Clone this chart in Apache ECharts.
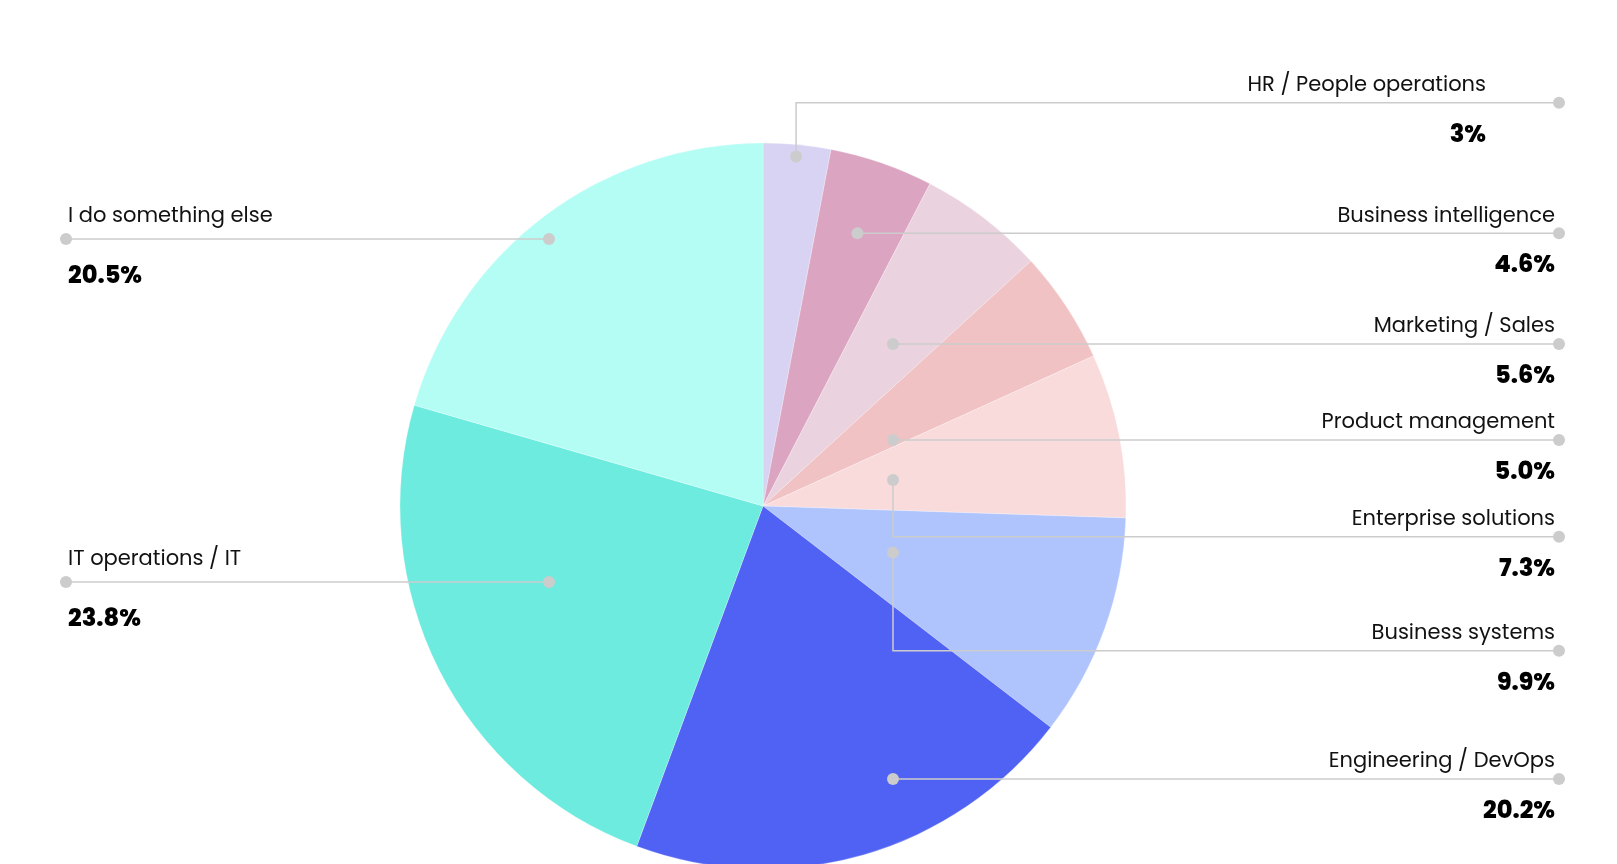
<!DOCTYPE html>
<html>
<head>
<meta charset="utf-8">
<script src="https://cdn.jsdelivr.net/npm/echarts@6/dist/echarts.min.js"></script>
<style>
html,body{margin:0;padding:0;background:#fff;}
#chart{width:1617px;height:864px;}
</style>
</head>
<body>
<div id="chart"></div>
<script>
// ---- data ----
const categories = ['HR / People operations','Business intelligence','Marketing / Sales','Product management','Enterprise solutions','Business systems','Engineering / DevOps','IT operations / IT','I do something else'];
const values = [3, 4.6, 5.6, 5.0, 7.3, 9.9, 20.2, 23.8, 20.5];
const valueLabels = ['3%','4.6%','5.6%','5.0%','7.3%','9.9%','20.2%','23.8%','20.5%'];
const colors = ['#D9D3F3','#DBA5C2','#EAD2DF','#F0C2C3','#F9DBDC','#AFC4FC','#5062F3','#6DEBDF','#B4FDF5'];

// ---- layout (label slots, not data) ----
const CX = 763, CY = 506, R = 363;
const slotY = [102.7, 233.3, 344, 440, 536.7, 650.7, 779, 582, 239];
const textInset = [73, 4, 4, 4, 4, 4, 4, 2, 2];
const RIGHT_END = 1559, LEFT_END = 66;
const ANCHOR_DX_RIGHT = 130, ANCHOR_DX_LEFT = 214;
const FONT = 'Poppins, Inter, "Noto Sans", sans-serif';

const total = values.reduce((a,b)=>a+b,0);
const slices = [];
let acc = 0;
values.forEach(v => { const s = acc/total*360; acc += v; slices.push({s, e: acc/total*360}); });

function angOf(dx, dy){ // clockwise from top, degrees
  let a = Math.atan2(dx, -dy) * 180 / Math.PI;
  if (a < 0) a += 360;
  return a;
}
function anchorFor(i){
  const {s, e} = slices[i];
  const mid = (s + e) / 2;
  const right = mid < 180;
  const dxT = right ? ANCHOR_DX_RIGHT : -ANCHOR_DX_LEFT;
  const ly = slotY[i];
  const margin = 2.1;
  {
    const dy = ly - CY;
    const a = angOf(dxT, dy);
    const d = Math.hypot(dxT, dy);
    if (d < R * 0.97 && a > s + margin && a < e - margin) return [CX + dxT, ly];
  }
  const rad = mid * Math.PI / 180;
  const ux = Math.sin(rad), uy = -Math.cos(rad);
  {
    const dy = ly - CY;
    if (uy !== 0 && dy / uy > 0) {
      const d = dy / uy;
      if (d <= R * 0.967) return [CX + ux * d, ly];
    }
  }
  let d = Math.abs(dxT / ux);
  d = Math.min(d, R * 0.967);
  return [CX + ux * d, CY + uy * d];
}

const chart = echarts.init(document.getElementById('chart'), null, {renderer:'canvas'});
const option = {
  backgroundColor: '#fff',
  animation: false,
  series: [
    {
      type: 'pie',
      center: [CX, CY],
      radius: R,
      startAngle: 90,
      clockwise: true,
      silent: true,
      avoidLabelOverlap: false,
      label: {show: false},
      labelLine: {show: false},
      itemStyle: {borderColor: 'rgba(255,255,255,0.5)', borderWidth: 0.5},
      data: categories.map((c, i) => ({name: c, value: values[i], itemStyle: {color: colors[i]}}))
    },
    {
      type: 'custom',
      coordinateSystem: 'none',
      silent: true,
      z: 5,
      data: values.map((v, i) => [i, v]),
      renderItem: function(params){
        const i = params.dataIndex;
        const [ax, ay] = anchorFor(i);
        const mid = (slices[i].s + slices[i].e) / 2;
        const right = mid < 180;
        const ly = slotY[i];
        const ex = right ? RIGHT_END : LEFT_END;
        const tx = right ? RIGHT_END - textInset[i] : LEFT_END + textInset[i];
        const align = right ? 'right' : 'left';
        const nameDy = right ? -17 : -22;
        const pctDy = right ? 33 : 38;
        return {
          type: 'group',
          children: [
            {type:'polyline', shape:{points:[[ax,ay],[ax,ly],[ex,ly]]}, style:{stroke:'#cccccc', lineWidth:1.5, fill:null}},
            {type:'circle', shape:{cx:ax, cy:ay, r:6}, style:{fill:'#cccccc'}},
            {type:'circle', shape:{cx:ex, cy:ly, r:6}, style:{fill:'#cccccc'}},
            {type:'text', x: tx, y: ly + nameDy, style:{text: categories[i], fill:'#111111', fontSize:21, fontFamily: FONT, fontWeight: 400, align: align, verticalAlign:'middle'}},
            {type:'text', x: tx, y: ly + pctDy, style:{text: valueLabels[i], fill:'#000000', fontSize:24, fontFamily: FONT, fontWeight: 800, align: align, verticalAlign:'middle'}}
          ]
        };
      }
    }
  ]
};
chart.setOption(option);
</script>
</body>
</html>
